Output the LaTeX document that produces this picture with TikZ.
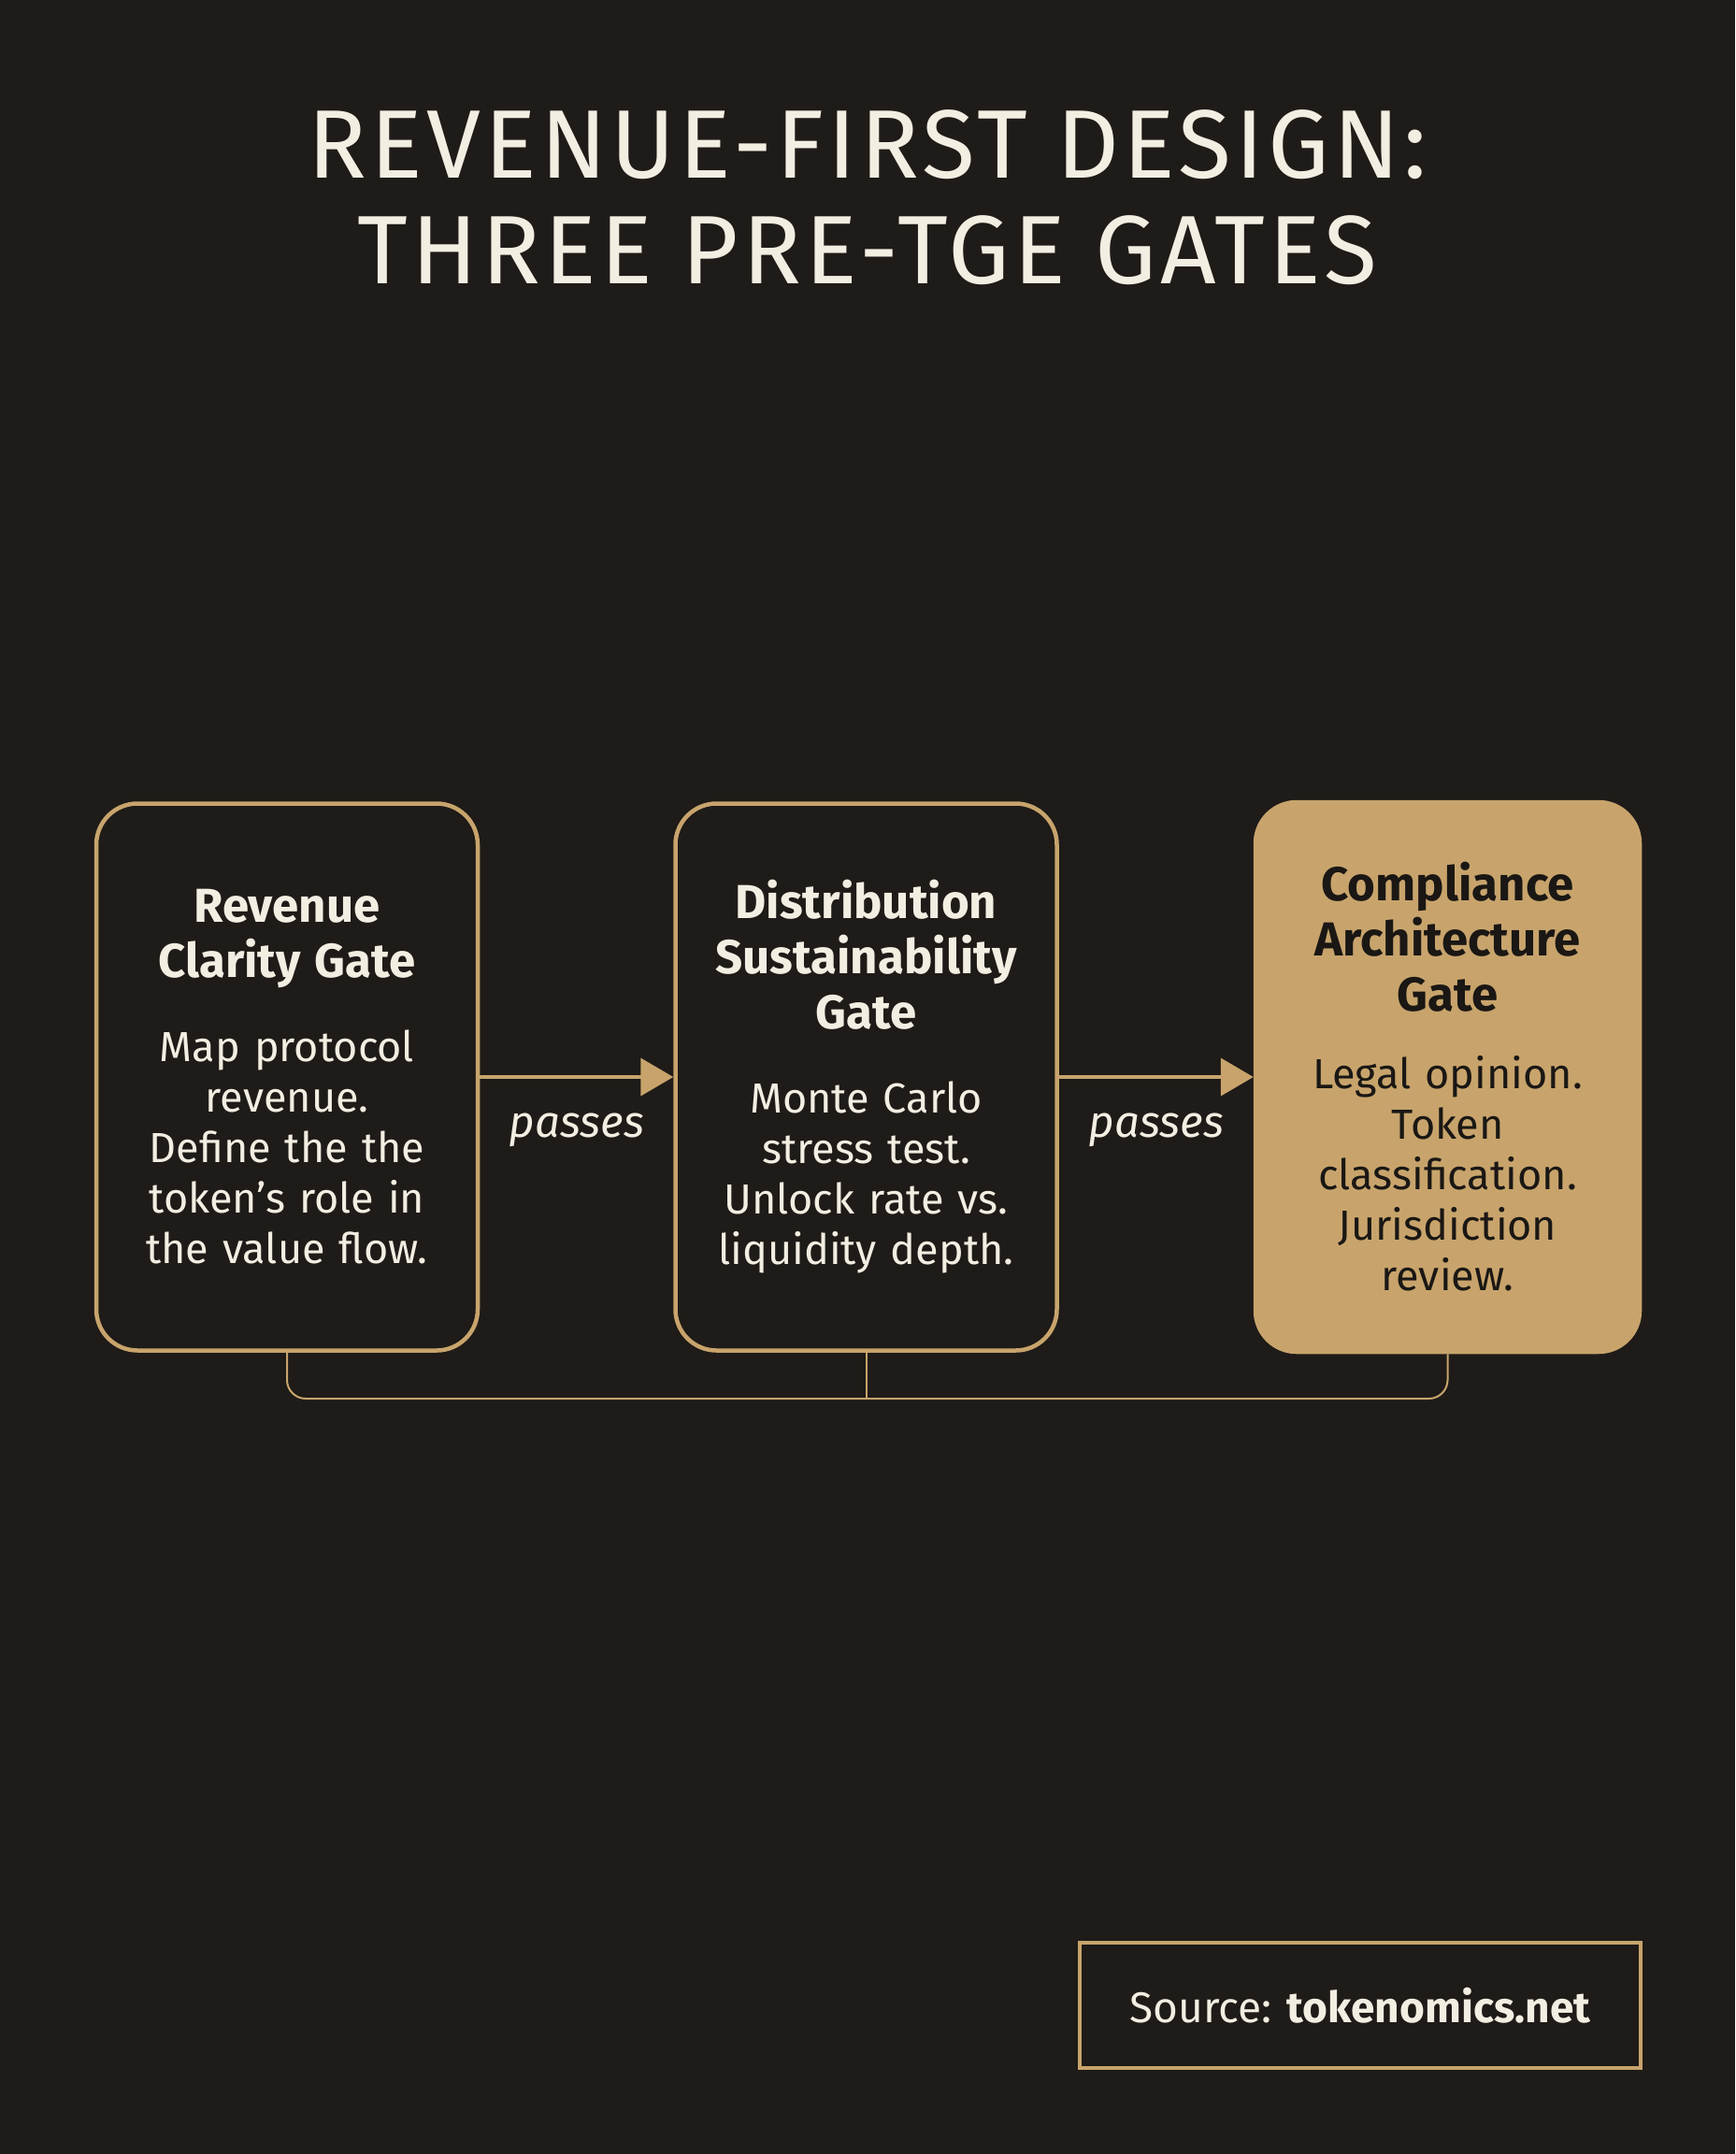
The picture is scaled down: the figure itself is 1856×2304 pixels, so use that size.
\documentclass[tikz,border=0pt]{standalone}
\usepackage{fontspec}
\setmainfont{Fira Sans}
\newfontfamily\titlefont{Fira Sans}[LetterSpace=4]
\usetikzlibrary{positioning}
\usetikzlibrary{arrows.meta}

\definecolor{bgdark}{HTML}{1E1B18}
\definecolor{gold}{HTML}{C8A46C}
\definecolor{cream}{HTML}{F3EEE2}
\definecolor{inkdark}{HTML}{1A1714}

% heading, body, gap between them
\newcommand{\gatetext}[3][36pt]{{\bfseries\fontsize{51}{59}\selectfont #2\par}\vspace{#1}{\fontsize{45}{54}\selectfont #3\par}}

\begin{document}
\begin{tikzpicture}[x=1pt,y=-1pt,
                gatebox/.style={draw=gold,line width=4.5pt,rounded corners=44pt,
                    minimum width=408pt,minimum height=585pt,text width=396pt,
                    align=center,inner sep=0pt,text=cream,font=\fontsize{45}{54}\selectfont},
                lastgate/.style={gatebox,fill=gold,text=inkdark,minimum width=411pt,minimum height=588pt},
                passarrow/.style={draw=gold,line width=4pt,-{Triangle[length=35pt,width=40pt]}},
                passlabel/.style={text=cream,font=\itshape\fontsize{47.5}{54}\selectfont},
                bracket/.style={draw=gold,line width=2pt,rounded corners=20pt},
                node distance=207pt]
    \fill[bgdark] (0,0) rectangle (1856,2304);
    \useasboundingbox (0,0) rectangle (1856,2304);

    % title
    \node[text=cream,align=center,font=\titlefont\fontsize{104}{113}\selectfont] (title) at (928,211)
        {REVENUE-FIRST DESIGN:\\THREE PRE-TGE GATES};

    % the three gates
    \node[gatebox] (revenue) at (307,1152)
        {\gatetext{Revenue\\Clarity Gate}{Map protocol\\revenue.\\Define the the\\token’s role in\\the value flow.}};
    \node[gatebox,right=of revenue] (distribution)
        {\gatetext{Distribution\\Sustainability\\Gate}{Monte Carlo\\stress test.\\Unlock rate vs.\\liquidity depth.}};
    \node[lastgate,right=208pt of distribution] (compliance)
        {\gatetext[29pt]{Compliance\\Architecture\\Gate}{Legal opinion.\\Token\\classification.\\Jurisdiction\\review.}};

    \draw[passarrow] (revenue.east) -- node[passlabel,below=34pt] (pass1) {passes} (revenue.east -| distribution.west);
    \draw[passarrow] (distribution.east) -- node[passlabel,below=34pt] (pass2) {passes} (distribution.east -| compliance.west);

    % bracket under the gates
    \coordinate (brk) at (0,1496);
    \draw[bracket] (revenue.south) -- (revenue.south |- brk) -- (compliance.south |- brk) -- (compliance.south);
    \draw[bracket] (distribution.south) -- (distribution.south |- brk);

    % source
    \node[draw=gold,line width=4pt,minimum width=600pt,minimum height=134pt,text=cream,
          font=\fontsize{46}{54}\selectfont] (source) at (1455,2145)
        {Source: \textbf{tokenomics.net}};
\end{tikzpicture}
\end{document}
